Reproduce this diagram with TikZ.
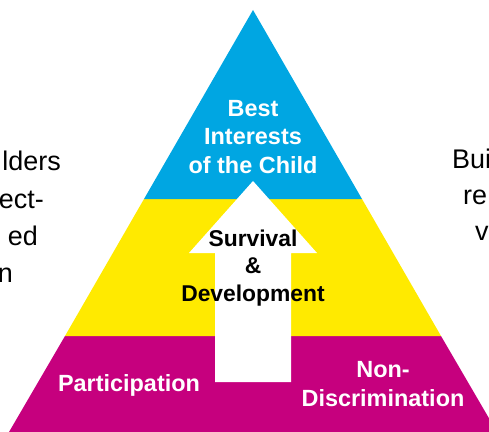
\documentclass[tikz,border=0pt]{standalone}
\usepackage{fontspec}
\setmainfont{Liberation Sans}
\definecolor{pyrblue}{RGB}{0,166,226}
\definecolor{pyryellow}{RGB}{255,234,0}
\definecolor{pyrmagenta}{RGB}{198,0,126}
\begin{document}
\begin{tikzpicture}[x=0.03cm,y=-0.03cm,
	pyrtext/.style={font=\bfseries\fontsize{20}{24.2}\selectfont,align=center,inner sep=0pt},
	sidetext/.style={font=\fontsize{23}{27}\selectfont,inner sep=0pt}]
	\useasboundingbox (0,0) rectangle (489,432);
	\clip (0,0) rectangle (489,432);
	\fill[pyrmagenta] (65,336) -- (441,336) -- (497,432) -- (9,432) -- cycle;
	\fill[pyryellow] (144,199) -- (362,199) -- (441,336) -- (65,336) -- cycle;
	\fill[pyrblue] (253,10) -- (362,199) -- (144,199) -- cycle;
	\fill[white] (253,181) -- (317,253) -- (291,253) -- (291,382) -- (215,382) -- (215,253) -- (189,253) -- cycle;
	\node[pyrtext,white] (best) at (253,137) {Best\\Interests\\of the Child};
	\node[pyrtext,black,font=\bfseries\fontsize{19.5}{23.5}\selectfont] (surv) at (253,268) {Survival\\\&\\Development};
	\node[pyrtext,white] (part) at (129,385) {Participation};
	\node[pyrtext,white] (nondisc) at (383,384) {Non-\\Discrimination};
	\node[sidetext,anchor=base east] (l1) at (61,171) {lders};
	\node[sidetext,anchor=base east] (l2) at (44,208) {ect-};
	\node[sidetext,anchor=base east] (l3) at (38,245) {ed};
	\node[sidetext,anchor=base east] (l4) at (13,282) {n};
	\node[sidetext,anchor=base west] (r1) at (452,169) {Bui};
	\node[sidetext,anchor=base west] (r2) at (463,205) {re};
	\node[sidetext,anchor=base west] (r3) at (475,240) {v};
\end{tikzpicture}
\end{document}
